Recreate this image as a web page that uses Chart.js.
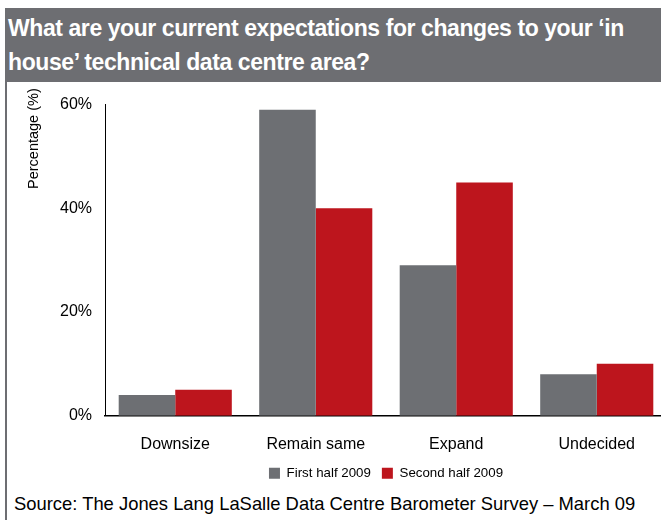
<!DOCTYPE html>
<html>
<head>
<meta charset="utf-8">
<script src="https://cdn.jsdelivr.net/npm/chart.js@4.4.1/dist/chart.umd.min.js"></script>
<style>
    html, body {
        margin: 0;
        padding: 0;
        width: 661px;
        height: 520px;
        overflow: hidden;
        background: #fff;
        font-family: "Liberation Sans", Arial, sans-serif;
    }
    #title {
        position: absolute;
        left: 5px;
        top: 8px;
        width: 656px;
        height: 74px;
        padding: 3px 0 0 3px;
        box-sizing: border-box;
        background: #6d6e72;
        color: #fff;
        font-weight: bold;
        font-size: 23px;
        letter-spacing: -0.42px;
        line-height: 34px;
        white-space: nowrap;
    }
    #frame {
        position: absolute;
        left: 5px;
        top: 82px;
        width: 2px;
        height: 438px;
        background: #6d6e72;
    }
    #wrap {
        position: absolute;
        left: 0;
        top: 82px;
    }
    #ytitle {
        position: absolute;
        font-size: 14.5px;
        color: #000;
        white-space: nowrap;
    }
    #source {
        position: absolute;
        left: 14px;
        top: 493px;
        font-size: 18.4px;
        color: #000;
        white-space: nowrap;
    }
</style>
</head>
<body>
<div id="title">What are your current expectations for changes to your ‘in<br>house’ technical data centre area?</div>
<div id="frame"></div>
<div id="wrap"><canvas id="chart" width="667" height="408"></canvas></div>
<div id="ytitle">Percentage (%)</div>
<div id="source">Source: The Jones Lang LaSalle Data Centre Barometer Survey – March 09</div>

<script>
const categories = ['Downsize', 'Remain same', 'Expand', 'Undecided'];
const firstHalf = [4, 59, 29, 8];
const secondHalf = [5, 40, 45, 10];
const yTicks = [0, 20, 40, 60];

const GREY = '#6d6f73';
const RED = '#bd151d';

// rotated axis caption: centre it on x=33 with its top end at y=88
const yTitle = document.getElementById('ytitle');
const capLen = yTitle.offsetWidth;
const capThick = yTitle.offsetHeight;
yTitle.style.left = (33 - capThick / 2) + 'px';
yTitle.style.top = (88 + capLen) + 'px';
yTitle.style.transformOrigin = '0 0';
yTitle.style.transform = 'rotate(-90deg)';

const ctx = document.getElementById('chart').getContext('2d');
new Chart(ctx, {
    type: 'bar',
    data: {
        labels: categories,
        datasets: [{
            label: 'First half 2009',
            data: firstHalf,
            backgroundColor: GREY
        }, {
            label: 'Second half 2009',
            data: secondHalf,
            backgroundColor: RED
        }]
    },
    options: {
        responsive: false,
        animation: false,
        categoryPercentage: 0.805,
        barPercentage: 1,
        layout: {
            padding: { top: 21, left: 0, right: 0, bottom: 0 }
        },
        plugins: {
            tooltip: { enabled: false },
            legend: {
                position: 'bottom',
                fullSize: false,
                labels: {
                    boxWidth: 11,
                    boxHeight: 11,
                    padding: 11,
                    color: '#000',
                    font: { family: 'Liberation Sans', size: 13.3 }
                }
            }
        },
        scales: {
            x: {
                grid: { display: false, drawTicks: false },
                border: { display: true, color: '#000', width: 1.5 },
                ticks: {
                    color: '#000',
                    padding: 19,
                    font: { family: 'Liberation Sans', size: 16 }
                },
                afterFit: scale => {
                    scale.height = 40;
                }
            },
            y: {
                min: 0,
                max: 60,
                afterBuildTicks: scale => {
                    scale.ticks = yTicks.map(v => ({ value: v }));
                },
                afterFit: scale => {
                    scale.width = 105;
                },
                grid: { display: false, drawTicks: false },
                border: { display: true, color: '#000', width: 1 },
                ticks: {
                    color: '#000',
                    padding: 13,
                    font: { family: 'Liberation Sans', size: 16 },
                    callback: v => v + '%'
                }
            }
        }
    }
});
</script>
</body>
</html>
